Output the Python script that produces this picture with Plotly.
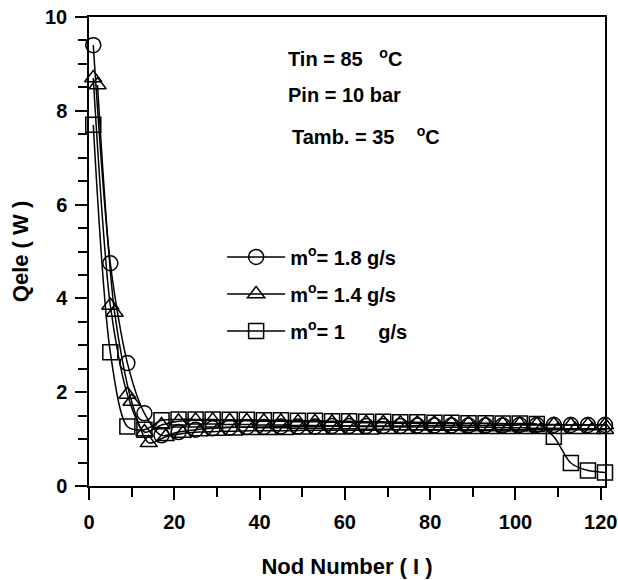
import plotly.graph_objects as go

# Node numbers
nodes_a = [1, 5, 9, 13, 17, 21, 25, 29, 33, 37, 41, 45, 49, 53, 57, 61, 65, 69, 73, 77,
           81, 85, 89, 93, 97, 101, 105, 109, 113, 117, 121]
nodes_b = [2, 6, 10, 14, 18, 22, 26, 30, 34, 38, 42, 46, 50, 54, 58, 62, 66, 70, 74, 78,
           82, 86, 90, 94, 98, 102, 106, 110, 114, 118, 121]

# m = 1.8 g/s
q_18 = [9.40, 4.75, 2.62, 1.55, 1.08, 1.15, 1.20, 1.23, 1.25, 1.26, 1.26, 1.27, 1.27, 1.27,
        1.28, 1.28, 1.28, 1.28, 1.28, 1.29, 1.29, 1.29, 1.29, 1.29, 1.29, 1.30, 1.30, 1.30,
        1.30, 1.30, 1.30]
# m = 1.4 g/s (two node sets)
q_14a = [8.70, 3.85, 1.95, 1.15, 1.30, 1.38, 1.40, 1.40, 1.39, 1.39, 1.38, 1.38, 1.37, 1.37,
         1.36, 1.36, 1.35, 1.35, 1.34, 1.34, 1.34, 1.33, 1.33, 1.33, 1.32, 1.32, 1.31, 1.31,
         1.30, 1.30, 1.30]
q_14b = [8.55, 3.70, 1.80, 0.92, 1.05, 1.12, 1.15, 1.16, 1.17, 1.18, 1.18, 1.18, 1.19, 1.19,
         1.19, 1.19, 1.19, 1.20, 1.20, 1.20, 1.20, 1.20, 1.20, 1.20, 1.20, 1.20, 1.20, 1.20,
         1.20, 1.20, 1.20]
# m = 1 g/s
q_10 = [7.70, 2.85, 1.27, 1.20, 1.40, 1.42, 1.42, 1.42, 1.41, 1.41, 1.40, 1.40, 1.39, 1.39,
        1.38, 1.38, 1.37, 1.37, 1.36, 1.36, 1.35, 1.35, 1.34, 1.34, 1.33, 1.33, 1.32, 1.05,
        0.49, 0.33, 0.29]

names = ["m<sup>o</sup>= 1.8 g/s", "m<sup>o</sup>= 1.4 g/s",
         "m<sup>o</sup>= 1\u00a0\u00a0\u00a0\u00a0\u00a0 g/s"]

FONT = "Liberation Sans, Arial, sans-serif"

fig = go.Figure()


def add(x, y, sym, name, show, group):
    fig.add_trace(go.Scatter(
        x=x, y=y, mode="lines+markers", name=name, showlegend=show, legendgroup=group,
        line=dict(color="black", width=1.5, shape="spline", smoothing=0.8),
        marker=dict(symbol=sym, size=15, color="black", line=dict(width=1.5, color="black")),
        cliponaxis=False,
    ))


add(nodes_a, q_18, "circle-open", names[0], True, "g1")
add(nodes_b, q_14b, "triangle-up-open", names[1], True, "g2")
add(nodes_a, q_14a, "triangle-up-open", names[1], False, "g2")
add(nodes_a, q_10, "square-open", names[2], True, "g3")

axis_common = dict(
    showline=True, linecolor="black", linewidth=1.5, mirror=True,
    ticks="outside", ticklen=12, tickwidth=1.5, tickcolor="black",
    showgrid=False, zeroline=False, automargin=False,
    tickfont=dict(family=FONT, size=20, color="black", weight="bold"),
)
title_font = dict(family=FONT, size=22, color="black", weight="bold")

fig.update_xaxes(range=[0, 121], tickvals=[0, 20, 40, 60, 80, 100, 120],
                 minor=dict(tickvals=[10, 30, 50, 70, 90, 110], ticks="outside", ticklen=9,
                            tickwidth=1.5, tickcolor="black"),
                 ticklabelstandoff=5,
                 title=dict(text="Nod Number ( I )", standoff=27, font=title_font),
                 **axis_common)
fig.update_yaxes(range=[0, 10], dtick=2, tick0=0,
                 minor=dict(dtick=0.5, ticks="outside", ticklen=9, tickwidth=1.5, tickcolor="black"),
                 ticklabelstandoff=4,
                 title=dict(text="Qele ( W )", standoff=10, font=title_font),
                 **axis_common)

ann_font = dict(family=FONT, size=20, color="black", weight="bold")
fig.add_annotation(xref="paper", yref="paper", x=0.382, y=0.913, xanchor="left", yanchor="middle",
                   text="Tin = 85\u00a0\u00a0\u00a0<sup>o</sup>C", showarrow=False, font=ann_font)
fig.add_annotation(xref="paper", yref="paper", x=0.382, y=0.834, xanchor="left", yanchor="middle",
                   text="Pin = 10 bar", showarrow=False, font=ann_font)
fig.add_annotation(xref="paper", yref="paper", x=0.389, y=0.748, xanchor="left", yanchor="middle",
                   text="Tamb. = 35\u00a0\u00a0\u00a0\u00a0<sup>o</sup>C", showarrow=False, font=ann_font)

fig.update_layout(
    width=618, height=580,
    margin=dict(l=89, r=13, t=17, b=94, autoexpand=False),
    paper_bgcolor="white", plot_bgcolor="white",
    font=dict(family=FONT, color="black"),
    legend=dict(x=0.258, y=0.53, xanchor="left", yanchor="top",
                bgcolor="rgba(0,0,0,0)", borderwidth=0,
                font=dict(family=FONT, size=20, color="black", weight="bold"),
                itemwidth=58, traceorder="grouped", tracegroupgap=8),
)

fig.write_html(
    "out.html",
    config={"displayModeBar": False},
    post_script="document.body.style.margin='0';document.body.style.overflow='hidden';",
)
